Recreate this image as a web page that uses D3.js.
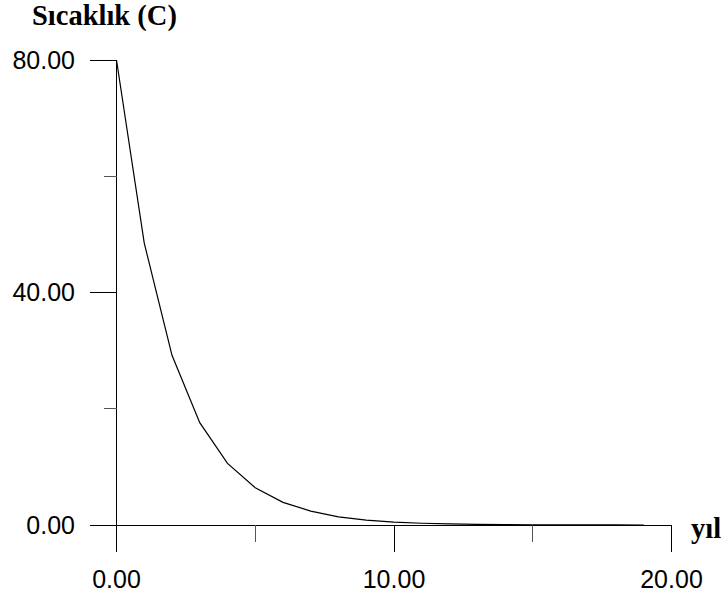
<!DOCTYPE html>
<html>
<head>
<meta charset="utf-8">
<script src="https://cdn.jsdelivr.net/npm/d3@7"></script>
<style>
  body { margin: 0; background: #fff; }
  .tick-label { font-family: "Liberation Sans", Arial, sans-serif; font-size: 25px; fill: #000; }
  .axis-title { font-family: "Liberation Serif", "Times New Roman", serif; font-weight: bold; font-size: 28.5px; fill: #000; }
</style>
</head>
<body>
<div id="chart"></div>
<script>
// yıl vs sıcaklık
const years = [0, 1, 2, 3, 4, 5, 6, 7, 8, 9, 10, 11, 12, 13, 14, 15, 16, 17, 18, 19]
const temps = [80, 48.5, 29.2, 17.6, 10.6, 6.4, 3.9, 2.4, 1.4, 0.85, 0.5, 0.3, 0.18, 0.11, 0.07, 0.04, 0.02, 0.01, 0.01, 0.0]
const xMajor = [0, 10, 20]
const xMinor = [5, 15]
const yMajor = [0, 40, 80]
const yMinor = [20, 60]

const width = 725
const height = 599

let svg = d3.select("#chart").append("svg")
    .attr("width", width)
    .attr("height", height)

let x = d3.scaleLinear().domain([0, 20]).range([116.5, 671.5])
let y = d3.scaleLinear().domain([0, 80]).range([525, 60])

let g = svg.append("g")
    .attr("stroke", "#000")
    .attr("stroke-width", 1)
    .attr("shape-rendering", "crispEdges")

// axis lines
g.append("line")
    .attr("x1", x(0) - 27).attr("x2", x(20))
    .attr("y1", y(0)).attr("y2", y(0))
g.append("line")
    .attr("x1", x(0)).attr("x2", x(0))
    .attr("y1", y(80)).attr("y2", y(0) + 27)

// x ticks
g.selectAll(".xmaj").data(xMajor).enter().append("line")
    .attr("x1", d => x(d)).attr("x2", d => x(d))
    .attr("y1", y(0)).attr("y2", y(0) + 27)
g.selectAll(".xmin").data(xMinor).enter().append("line")
    .attr("x1", d => x(d)).attr("x2", d => x(d))
    .attr("y1", y(0)).attr("y2", y(0) + 17)
    .attr("stroke", "#555")

// y ticks
g.selectAll(".ymaj").data(yMajor).enter().append("line")
    .attr("x1", x(0) - 27).attr("x2", x(0))
    .attr("y1", d => y(d)).attr("y2", d => y(d))
g.selectAll(".ymin").data(yMinor).enter().append("line")
    .attr("x1", x(0) - 13).attr("x2", x(0))
    .attr("y1", d => y(d)).attr("y2", d => y(d))
    .attr("stroke", "#555")

// tick labels
svg.selectAll(".xl").data(xMajor).enter().append("text")
    .attr("class", "tick-label")
    .attr("x", d => x(d))
    .attr("y", 588)
    .attr("text-anchor", "middle")
    .text(d => d3.format(".2f")(d))

svg.selectAll(".yl").data(yMajor).enter().append("text")
    .attr("class", "tick-label")
    .attr("x", 75)
    .attr("y", d => y(d) + 8.5)
    .attr("text-anchor", "end")
    .text(d => d3.format(".2f")(d))

// curve
let line = d3.line()
    .x(d => x(d[0]))
    .y(d => y(d[1]))

svg.append("path")
    .datum(years.map((d, i) => [d, temps[i]]))
    .attr("d", line)
    .style("fill", "none")
    .style("stroke", "#000")
    .style("stroke-width", 1.2)

// titles
svg.append("text")
    .attr("class", "axis-title")
    .attr("x", 32)
    .attr("y", 25)
    .text("Sıcaklık (C)")

svg.append("text")
    .attr("class", "axis-title")
    .attr("x", 691)
    .attr("y", 538)
    .text("yıl")
</script>
</body>
</html>
